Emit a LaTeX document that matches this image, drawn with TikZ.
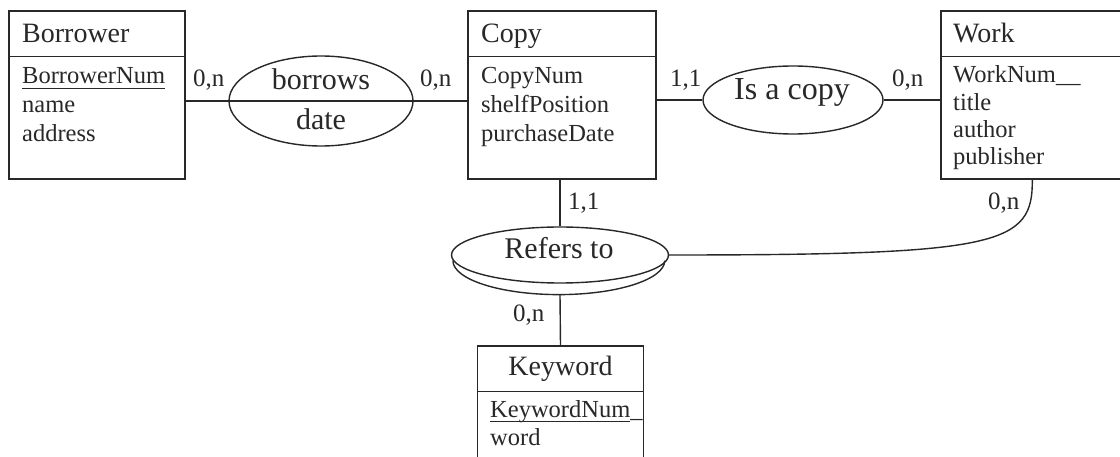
\documentclass[tikz,border=0pt]{standalone}
\usepackage{fontspec}
\setmainfont{Liberation Serif}
\usetikzlibrary{shapes.geometric}
\definecolor{inkgray}{RGB}{40,40,40}
\newcommand{\keyattr}[1]{\setbox0\hbox{#1}\rlap{\rule[-5pt]{\wd0}{1.2pt}}\box0}

\begin{document}
\begin{tikzpicture}[x=1pt, y=-1pt, color=inkgray,
    entity/.style={rectangle, draw, line width=1.4pt, inner sep=0pt},
    rel/.style={ellipse, draw, line width=1.4pt, inner sep=0pt},
    link/.style={line width=1.4pt},
    title/.style={anchor=base west, inner sep=0pt, font=\fontsize{28}{32}\selectfont},
    attr/.style={anchor=base west, inner sep=0pt, font=\fontsize{24.5}{28}\selectfont},
    relname/.style={anchor=base, inner sep=0pt, font=\fontsize{30}{34}\selectfont},
    card/.style={anchor=base west, inner sep=0pt, font=\fontsize{25}{28}\selectfont}
]
\clip (0,0) rectangle (1120,457);
\fill[white] (0,0) rectangle (1120,457);

% Borrower
\node[entity, minimum width=176pt, minimum height=168pt] (borrower) at (97,95) {};
\draw[link] ([yshift=-46pt]borrower.north west) -- ([yshift=-46pt]borrower.north east);
\node[title] (borrowerT) at (22,43) {Borrower};
\node[attr] (borrowerA1) at (22,84) {\keyattr{BorrowerNum}};
\node[attr] (borrowerA2) at (22,113) {name};
\node[attr] (borrowerA3) at (22,142) {address};

% Copy
\node[entity, minimum width=188pt, minimum height=168pt] (copy) at (562,95) {};
\draw[link] ([yshift=-46pt]copy.north west) -- ([yshift=-46pt]copy.north east);
\node[title] (copyT) at (481,43) {Copy};
\node[attr] (copyA1) at (481,84) {CopyNum};
\node[attr] (copyA2) at (481,113) {shelfPosition};
\node[attr] (copyA3) at (481,142) {purchaseDate};

% Work
\node[entity, minimum width=200pt, minimum height=168pt] (work) at (1041,95) {};
\draw[link] ([yshift=-46pt]work.north west) -- ([yshift=-46pt]work.north east);
\node[title] (workT) at (953,43) {Work};
\node[attr] (workA1) at (953,83) {WorkNum\_\_};
\node[attr] (workA2) at (953,111) {title};
\node[attr] (workA3) at (953,138) {author};
\node[attr] (workA4) at (953,165) {publisher};

% Keyword
\node[entity, minimum width=166pt, minimum height=130pt] (keyword) at (560.5,411) {};
\draw[link] ([yshift=-46pt]keyword.north west) -- ([yshift=-46pt]keyword.north east);
\node[title, anchor=base] (keywordT) at (560.5,375) {Keyword};
\node[attr] (keywordA1) at (490,417) {\keyattr{KeywordNum}\_};
\node[attr] (keywordA2) at (490,445) {word};

% borrows
\node[rel, minimum width=184pt, minimum height=90pt] (borrows) at (321,101) {};
\node[relname] (borrowsT) at (321,90) {borrows};
\node[relname] (borrowsD) at (321,130) {date};
\draw[link] (borrower.east |- borrows) -- (copy.west |- borrows);
\node[card] at (193,87) {0,n};
\node[card] at (420,87) {0,n};

% Is a copy
\node[rel, minimum width=180pt, minimum height=68pt] (isacopy) at (793,100) {};
\node[relname, font=\fontsize{32}{36}\selectfont] (isacopyT) at (792,100) {Is a copy};
\draw[link] (copy.east |- isacopy) -- (isacopy.west);
\draw[link] (isacopy.east) -- (work.west |- isacopy);
\node[card] at (670,87) {1,1};
\node[card] at (892,87) {0,n};

% Refers to
\node[rel, minimum width=217pt, minimum height=56pt] (refers) at (560,255) {};
\draw[link] (refers.183) arc[start angle=180, end angle=360, x radius=105.9pt, y radius=34pt];
\node[relname] (refersT) at (559,259) {Refers to};
\coordinate (refersbase) at ([yshift=-11.5pt]refers.south);
\coordinate (workfoot) at ([xshift=92pt]work.south west);
\draw[link] (refers.north |- copy.south) -- (refers.north);
\draw[link] (refersbase) -- (keyword.north);
\draw[link] (refers.east) .. controls (1000,255) and (1033,245) .. (workfoot);
\node[card] at (568,210) {1,1};
\node[card] at (513,322) {0,n};
\node[card] at (988,210) {0,n};
\end{tikzpicture}
\end{document}
